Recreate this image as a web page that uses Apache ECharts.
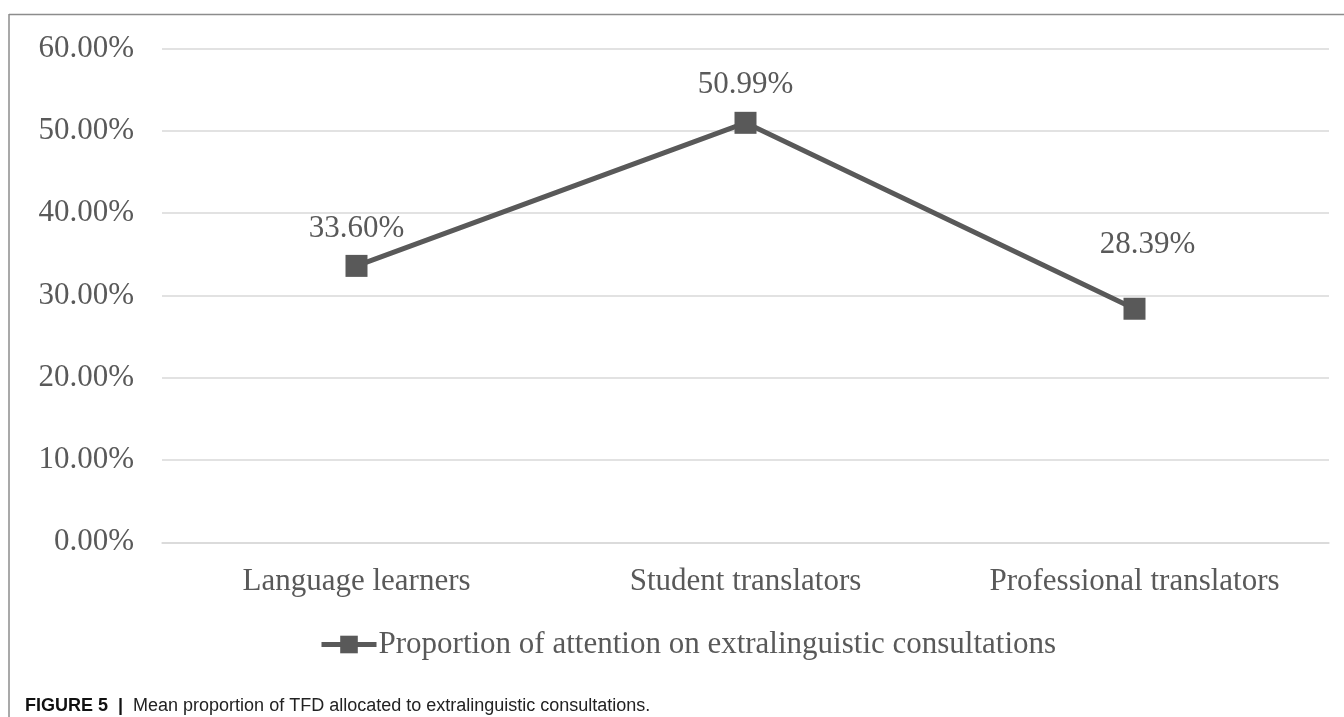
<!DOCTYPE html>
<html>
<head>
<meta charset="utf-8">
<script src="https://cdn.jsdelivr.net/npm/echarts@6/dist/echarts.min.js"></script>
<style>
html,body{margin:0;padding:0;background:#fff;}
#chart{width:1344px;height:717px;}
</style>
</head>
<body>
<div id="chart"></div>
<script>
var categories = ['Language learners', 'Student translators', 'Professional translators'];
var seriesName = 'Proportion of attention on extralinguistic consultations';
var values = [33.60, 50.99, 28.39];
var yTicks = { min: 0, max: 60, interval: 10 };
var captionBold = 'FIGURE 5';
var captionText = 'Mean proportion of TFD allocated to extralinguistic consultations.';

var chart = echarts.init(document.getElementById('chart'), null, {renderer: 'canvas'});
var serif = '"Liberation Serif", "Times New Roman", serif';
var txt = '#595959';
var seriesData = values.map(function (v, i) {
  var d = { value: v };
  if (i === 2) { d.label = { offset: [13, -26] }; }
  return d;
});
chart.setOption({
  backgroundColor: '#fff',
  animation: false,
  grid: { left: 162, right: 15, top: 48.7, bottom: 174.7 },
  xAxis: {
    type: 'category',
    data: categories,
    boundaryGap: true,
    axisLine: { show: true, lineStyle: { color: '#d9d9d9', width: 1.5 } },
    axisTick: { show: false },
    axisLabel: { color: txt, fontFamily: serif, fontSize: 31, margin: 24 }
  },
  yAxis: {
    type: 'value',
    min: yTicks.min, max: yTicks.max, interval: yTicks.interval,
    axisLine: { show: false },
    axisTick: { show: false },
    splitLine: { lineStyle: { color: '#d9d9d9', width: 1.5 } },
    axisLabel: { color: txt, fontFamily: serif, fontSize: 31, margin: 28,
      formatter: function (v) { return v.toFixed(2) + '%'; } }
  },
  legend: {
    show: true,
    left: 314, top: 624,
    itemWidth: 55, itemHeight: 22,
    itemGap: 10,
    lineStyle: { width: 5 },
    textStyle: { color: txt, fontFamily: serif, fontSize: 31, padding: [0, 0, 0, -3] },
    data: [seriesName]
  },
  series: [{
    name: seriesName,
    type: 'line',
    data: seriesData,
    symbol: 'rect',
    symbolSize: 22,
    lineStyle: { color: '#595959', width: 5 },
    itemStyle: { color: '#595959' },
    label: { show: true, position: 'top', distance: 11, color: txt, fontFamily: serif, fontSize: 31,
      formatter: function (p) { return p.value.toFixed(2) + '%'; } }
  }],
  graphic: [
    { type: 'line', shape: { x1: 9, y1: 14.5, x2: 1344, y2: 14.5 }, style: { stroke: '#8c8c8c', lineWidth: 1.5 } },
    { type: 'line', shape: { x1: 9, y1: 14, x2: 9, y2: 717 }, style: { stroke: '#8c8c8c', lineWidth: 1.5 } },
    { type: 'text', left: 25, top: 697, style: {
      text: '{b|' + captionBold + '}{s|  |  }{n|' + captionText + '}',
      rich: {
        b: { fontFamily: '"Liberation Sans", Arial, sans-serif', fontWeight: 'bold', fontSize: 18, fill: '#111' },
        s: { fontFamily: '"Liberation Sans", Arial, sans-serif', fontWeight: 'bold', fontSize: 18, fill: '#111' },
        n: { fontFamily: '"Liberation Sans", Arial, sans-serif', fontSize: 18, fill: '#222' }
      }
    } }
  ]
});
</script>
</body>
</html>
